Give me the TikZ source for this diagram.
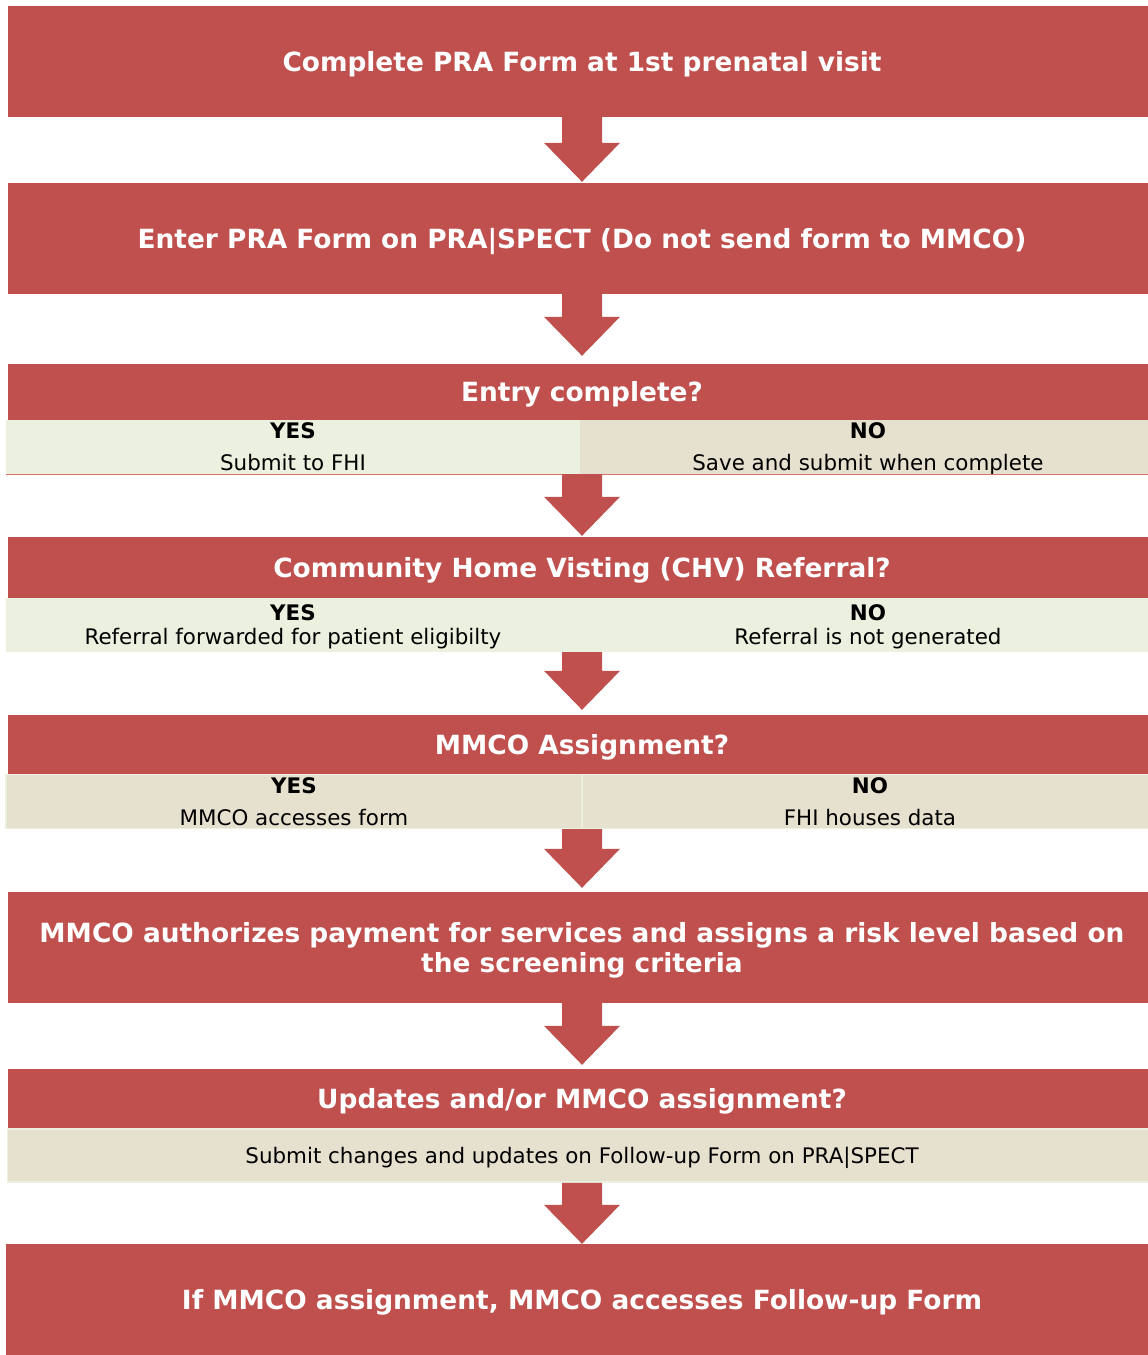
\documentclass[tikz,border=0pt]{standalone}
\usepackage{fontspec}
\setmainfont{DejaVu Sans}
\usetikzlibrary{calc}
\definecolor{boxred}{HTML}{C0504D}
\definecolor{cellgreen}{HTML}{EBF1DE}
\definecolor{cellbeige}{HTML}{E6E0CF}
\definecolor{linered}{HTML}{DA6F6B}
\newcommand\hs{\rule[-7pt]{0pt}{33pt}}
\newcommand\htop{\rule{0pt}{26pt}}
\newcommand\hbot{\rule[-7pt]{0pt}{7pt}}
\newcommand\cs{\rule[-6.4pt]{0pt}{28.4pt}}
\newcommand\twoline[2]{\rule{0pt}{18.8pt}\smash{#1}\\\smash{#2}\rule[-3.2pt]{0pt}{3.2pt}}
\tikzset{
  box/.style={fill=boxred, text=white, font=\fontsize{26.4}{30}\selectfont\bfseries,
    minimum width=1148pt, inner sep=0pt, align=center, anchor=center},
  cell/.style={inner sep=0pt, font=\fontsize{21.4}{32}\selectfont, align=center, text=black, anchor=center},
  arrowfill/.style={fill=boxred}
}
\newcommand\blockarrow[3]{%
  \fill[arrowfill] let \p1=(#1.south), \p2=(#2.north) in
    (\x2-20pt,\y1) -- (\x2+20pt,\y1) -- (\x2+20pt,\y2+#3pt+39pt) -- (\x2+38pt,\y2+#3pt+39pt)
    -- (\x2,\y2+#3pt) -- (\x2-38pt,\y2+#3pt+39pt) -- (\x2-20pt,\y2+#3pt+39pt) -- cycle;}
\begin{document}
\begin{tikzpicture}[x=1pt,y=-1pt]
\useasboundingbox (0,0) rectangle (1148,1355);
\clip (0,0) rectangle (1148,1355);
\fill[white] (0,0) rectangle (1148,1355);

\node[box, minimum height=111pt] (b1) at (582,61.5) {\hs Complete PRA Form at 1st prenatal visit};
\node[box, minimum height=111pt] (b2) at (582,238.5) {\hs Enter PRA Form on PRA|SPECT (Do not send form to MMCO)};

\node[box, minimum height=56pt] (b3) at (582,392) {\hs Entry complete?};
\node[cell, fill=cellgreen, minimum width=574pt, minimum height=54pt] (r3y) at (293,447) {\twoline{\textbf{YES}}{Submit to FHI}};
\node[cell, fill=cellbeige, minimum width=576pt, minimum height=54pt] (r3n) at (868,447) {\twoline{\textbf{NO}}{Save and submit when complete}};
\draw[linered, line width=1.2pt] (r3y.south west) -- (r3n.south east);

\node[box, minimum height=61pt] (b4) at (582,567.5) {\hs Community Home Visting (CHV) Referral?};
\node[cell, fill=cellgreen, font=\fontsize{21.4}{24}\selectfont, minimum width=574pt, minimum height=54pt] (r4y) at (293,625) {\twoline{\textbf{YES}}{Referral forwarded for patient eligibilty}};
\node[cell, fill=cellgreen, font=\fontsize{21.4}{24}\selectfont, minimum width=576pt, minimum height=54pt] (r4n) at (868,625) {\twoline{\textbf{NO}}{Referral is not generated}};

\node[box, minimum height=60pt] (b5) at (582,745) {\hs MMCO Assignment?};
\node[cell, fill=cellbeige, draw=cellgreen, line width=1.2pt, minimum width=576pt, minimum height=53pt] (r5y) at (294,801.5) {\twoline{\textbf{YES}}{MMCO accesses form}};
\node[cell, fill=cellbeige, draw=cellgreen, line width=1.2pt, minimum width=576pt, minimum height=53pt] (r5n) at (870,801.5) {\twoline{\textbf{NO}}{FHI houses data}};

\node[box, minimum height=111pt] (b6) at (582,947.5) {\htop MMCO authorizes payment for services and assigns a risk level based on\\the screening criteria\hbot};

\node[box, minimum height=60pt] (b7) at (582,1099) {\hs Updates and/or MMCO assignment?};
\node[cell, fill=cellbeige, draw=cellgreen, line width=1.5pt, minimum width=1149pt, minimum height=53pt] (r7) at (582,1155.5) {\cs Submit changes and updates on Follow-up Form on PRA|SPECT};

\node[box, minimum height=111pt, minimum width=1152pt] (b8) at (582,1299.5) {\hs If MMCO assignment, MMCO accesses Follow-up Form};

\blockarrow{b1}{b2}{1}
\blockarrow{b2}{b3}{8}
\blockarrow{r3y}{b4}{1}
\blockarrow{r4y}{b5}{5}
\blockarrow{r5y}{b6}{4}
\blockarrow{b6}{b7}{4}
\blockarrow{r7}{b8}{0}
\end{tikzpicture}
\end{document}
